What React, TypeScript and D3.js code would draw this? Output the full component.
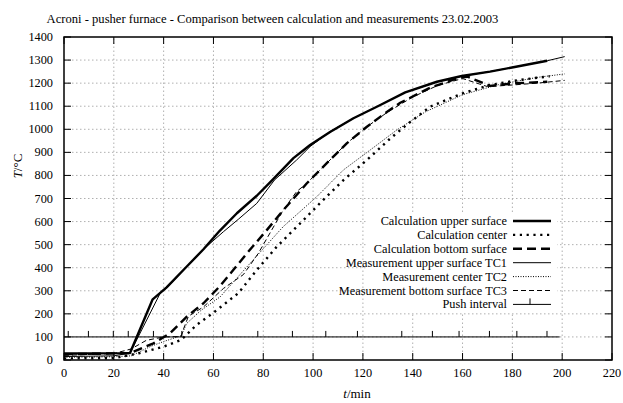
import React from "react";
import { scaleLinear, line, range } from "d3";

// time axis (min) and temperatures (°C)
const upperCalcT = [0, 26.5, 35.6, 41.2, 49, 56, 62.5, 69.4, 77.4, 84.1, 92.1, 98.8, 106.8, 116.2, 126, 137, 149.7, 159.7, 171, 180.4, 194];
const upperCalcV = [28, 30, 263, 315, 402, 480, 560, 636, 712, 785, 875, 932, 988, 1048, 1100, 1160, 1206, 1231, 1250, 1269, 1297];

const centerCalcT = [0, 20, 30, 40, 47, 53, 60, 70, 77.4, 85.4, 94.8, 104.1, 112.2, 121.6, 131, 137.6, 147, 160, 171, 183, 195];
const centerCalcV = [7, 8, 29, 58, 87, 150, 205, 290, 390, 491, 592, 694, 780, 867, 960, 1020, 1098, 1156, 1192, 1214, 1230];

const bottomCalcT = [0, 26.5, 35.9, 42.6, 49.3, 56, 62.4, 65.3, 73.4, 81.4, 88.1, 97.5, 105.5, 113.5, 121.6, 129.6, 135, 147, 159, 162, 171, 180.5, 194];
const bottomCalcV = [25, 30, 72, 116, 188, 246, 318, 355, 462, 563, 650, 766, 853, 939, 1011, 1075, 1115, 1180, 1225, 1228, 1188, 1199, 1206];

const tc1T = [0, 20, 26.5, 38.6, 41.2, 49, 56, 64, 70, 77.4, 84.5, 93.4, 98.8, 106.8, 116.2, 126, 137, 150, 160, 171, 180.4, 194, 201];
const tc1V = [15, 18, 30, 289, 312, 400, 480, 556, 610, 679, 780, 867, 925, 990, 1048, 1100, 1160, 1206, 1231, 1250, 1269, 1297, 1315];

const tc2T = [0, 20, 27, 35, 40, 47, 49.3, 55, 62.7, 74.7, 88, 101.5, 112.2, 122.9, 133.6, 145, 160, 175, 190, 201];
const tc2V = [12, 14, 18, 60, 80, 105, 159, 215, 274, 419, 578, 708, 824, 910, 997, 1075, 1150, 1195, 1225, 1240];

const tc3T = [0, 20, 27, 33, 40, 47, 48.5, 50, 56, 64, 72, 78, 88, 93.4, 97.5, 105.5, 113.5, 121.6, 130, 140, 150, 160, 170, 180, 190, 201];
const tc3V = [20, 28, 48, 85, 100, 102, 150, 190, 230, 310, 370, 462, 650, 730, 766, 853, 939, 1011, 1075, 1140, 1190, 1220, 1185, 1192, 1200, 1212];

const pushTimes = [1.7, 9.8, 19.8, 25.8, 35.9, 47.3, 63.7, 77.8, 91.7, 105.1, 117.8, 135.6, 147.9, 158.6, 170.8, 181.8, 193.9];
const pushLevel = 100;
const pushEnd = 199;

const xTicks = range(0, 221, 20);
const yTicks = range(0, 1401, 100);

const W = 623;
const H = 403;
const FONT = '"Liberation Serif", "Times New Roman", "DejaVu Serif", serif';

const x = scaleLinear().domain([0, 220]).range([64, 612]);
const y = scaleLinear().domain([0, 1400]).range([360, 37]);

const zip = (t: number[], v: number[]) => t.map((d, i) => [d, v[i]] as [number, number]);
const path = line<[number, number]>()
  .x((d) => x(d[0]))
  .y((d) => y(d[1]));

const series = [
  { name: "Calculation upper surface", data: zip(upperCalcT, upperCalcV), w: 2.4, dash: "" },
  { name: "Calculation center", data: zip(centerCalcT, centerCalcV), w: 2.4, dash: "2.2,4.6" },
  { name: "Calculation bottom surface", data: zip(bottomCalcT, bottomCalcV), w: 2.4, dash: "9,5" },
  { name: "Measurement upper surface TC1", data: zip(tc1T, tc1V), w: 1, dash: "" },
  { name: "Measurement center TC2", data: zip(tc2T, tc2V), w: 1, dash: "1,1.5" },
  { name: "Measurement bottom surface TC3", data: zip(tc3T, tc3V), w: 1, dash: "5,3" },
];

const TICK = 7;
const legX0 = 513;
const legX1 = 551;
const legY0 = 221;
const legDy = 13.9;

export default function App() {
  const [x0, x1] = x.range();
  const [y0, y1] = y.range();
  return (
    <svg
      width={W}
      height={H}
      style={{ position: "absolute", left: 0, top: 0, background: "white", fontFamily: FONT, fontSize: 12.3 }}
    >
      <rect width={W} height={H} fill="white" />
      {/* grid */}
      <g stroke="#b0b0b0" strokeWidth={1} strokeDasharray="1.5,2.5">
        {xTicks.slice(1, -1).map((t) => (
          <line key={"gx" + t} x1={x(t)} x2={x(t)} y1={y0} y2={y1} />
        ))}
        {yTicks.slice(1, -1).map((v) => (
          <line key={"gy" + v} x1={x0} x2={x1} y1={y(v)} y2={y(v)} />
        ))}
      </g>
      {/* key background hides grid */}
      <rect x={368} y={212} width={189} height={100} fill="white" />

      {/* ticks (mirrored) */}
      <g stroke="black" strokeWidth={1}>
        {xTicks.map((t) => (
          <g key={"tx" + t}>
            <line x1={x(t)} x2={x(t)} y1={y0} y2={y0 - TICK} />
            <line x1={x(t)} x2={x(t)} y1={y1} y2={y1 + TICK} />
          </g>
        ))}
        {yTicks.map((v) => (
          <g key={"ty" + v}>
            <line x1={x0} x2={x0 + TICK} y1={y(v)} y2={y(v)} />
            <line x1={x1} x2={x1 - TICK} y1={y(v)} y2={y(v)} />
          </g>
        ))}
      </g>

      {/* tick labels */}
      {xTicks.map((t) => (
        <text key={"lx" + t} x={x(t)} y={377} textAnchor="middle">
          {t}
        </text>
      ))}
      {yTicks.map((v) => (
        <text key={"ly" + v} x={53} y={y(v) + 4} textAnchor="end">
          {v}
        </text>
      ))}

      {/* push interval */}
      <g stroke="black" strokeWidth={1}>
        <line x1={x(0)} x2={x(pushEnd)} y1={y(pushLevel)} y2={y(pushLevel)} />
        {pushTimes.map((t) => (
          <line key={"p" + t} x1={x(t)} x2={x(t)} y1={y(pushLevel)} y2={y(pushLevel) - 6} />
        ))}
      </g>

      {/* curves */}
      {series.map((s) => (
        <path
          key={s.name}
          d={path(s.data) || ""}
          fill="none"
          stroke="black"
          strokeWidth={s.w}
          strokeDasharray={s.dash || undefined}
          strokeLinejoin="round"
        />
      ))}

      {/* frame */}
      <rect x={x0} y={y1} width={x1 - x0} height={y0 - y1} fill="none" stroke="black" strokeWidth={1.5} />

      {/* legend */}
      {series.map((s, i) => (
        <g key={"leg" + s.name}>
          <text x={507} y={legY0 + i * legDy + 4} textAnchor="end">
            {s.name}
          </text>
          <line
            x1={legX0}
            x2={legX1}
            y1={legY0 + i * legDy}
            y2={legY0 + i * legDy}
            stroke="black"
            strokeWidth={s.w}
            strokeDasharray={s.dash || undefined}
          />
        </g>
      ))}
      <g>
        <text x={507} y={legY0 + 6 * legDy + 4} textAnchor="end">
          Push interval
        </text>
        <line x1={legX0} x2={legX1} y1={legY0 + 6 * legDy} y2={legY0 + 6 * legDy} stroke="black" strokeWidth={1} />
        <line x1={530} x2={530} y1={legY0 + 6 * legDy} y2={legY0 + 6 * legDy - 6} stroke="black" strokeWidth={1} />
      </g>

      {/* titles */}
      <text x={272.5} y={23} textAnchor="middle" fontSize={12.6}>
        Acroni - pusher furnace - Comparison between calculation and measurements 23.02.2003
      </text>
      <text x={357} y={398} textAnchor="middle" fontSize={13}>
        <tspan fontStyle="italic">t</tspan>/min
      </text>
      <text transform="translate(22,166) rotate(-90)" textAnchor="middle" fontSize={13}>
        <tspan fontStyle="italic">T</tspan>/°C
      </text>
    </svg>
  );
}
